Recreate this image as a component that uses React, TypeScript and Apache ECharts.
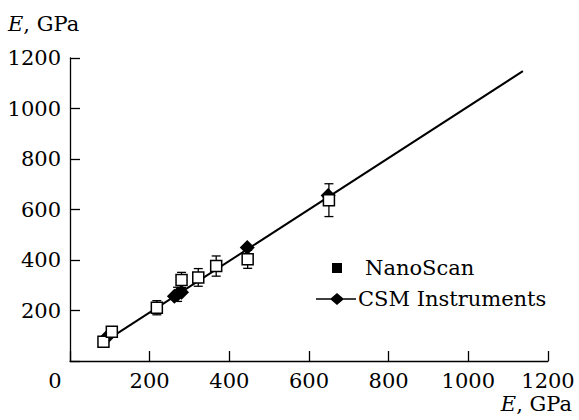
import React, { useEffect, useRef } from "react";
import * as echarts from "echarts";

const FONT = "DejaVu Serif";
const FS = 21;

// NanoScan: [E_ref, E_measured, error]
const nanoX = [84, 105, 218, 280, 322, 367, 446, 650];
const nanoY = [76, 116, 211, 321, 331, 376, 403, 637];
const nanoErr = [8, 18, 28, 30, 35, 40, 36, 65];

// CSM Instruments
const csmX = [93, 262, 270, 280, 445, 648];
const csmY = [95, 256, 264, 272, 450, 655];
const csmErr = [0, 0, 28, 0, 0, 0];

// Fit line endpoints
const fitX = [80, 1137];
const fitY = [70, 1148];

const axisTicks = [0, 200, 400, 600, 800, 1000, 1200];

export default function App() {
  const ref = useRef<HTMLDivElement>(null);

  useEffect(() => {
    if (!ref.current) return;
    const chart = echarts.init(ref.current, null, { renderer: "svg" });

    const nanoData = nanoX.map((x, i) => [x, nanoY[i]]);
    const nanoErrData = nanoX.map((x, i) => [x, nanoY[i], nanoErr[i]]);
    const csmData = csmX.map((x, i) => [x, csmY[i]]);
    const csmErrData = csmX
      .map((x, i) => [x, csmY[i], csmErr[i]])
      .filter((d) => d[2] > 0);
    const fitData = fitX.map((x, i) => [x, fitY[i]]);

    const errorRender = (params: any, api: any) => {
      const x = api.value(0);
      const y = api.value(1);
      const e = api.value(2);
      const top = api.coord([x, y + e]);
      const bot = api.coord([x, y - e]);
      const hw = 4.5;
      const st = { stroke: "#000", lineWidth: 1.3 };
      return {
        type: "group",
        children: [
          { type: "line", shape: { x1: top[0], y1: top[1], x2: bot[0], y2: bot[1] }, style: st },
          { type: "line", shape: { x1: top[0] - hw, y1: top[1], x2: top[0] + hw, y2: top[1] }, style: st },
          { type: "line", shape: { x1: bot[0] - hw, y1: bot[1], x2: bot[0] + hw, y2: bot[1] }, style: st },
        ],
      };
    };

    const axisCommon = {
      type: "value" as const,
      min: axisTicks[0],
      max: axisTicks[axisTicks.length - 1],
      interval: 200,
      splitLine: { show: false },
      axisLine: { show: true, lineStyle: { color: "#000", width: 1.3 } },
      axisTick: { show: true, inside: true, length: 10, lineStyle: { color: "#000", width: 1.3 } },
    };

    const nameStyle = {
      text: "{i|E}, GPa",
      fill: "#000",
      font: `${FS}px ${FONT}`,
      lineHeight: 22,
      rich: {
        i: { fontStyle: "italic", fontFamily: FONT, fontSize: FS, lineHeight: 22, fill: "#000" },
      },
    };

    const option: any = {
      animation: false,
      backgroundColor: "#fff",
      textStyle: { fontFamily: FONT },
      grid: { left: 70, right: 31, top: 58, bottom: 59, containLabel: false, outerBoundsMode: "none" },
      xAxis: {
        ...axisCommon,
        axisLabel: {
          color: "#000",
          fontFamily: FONT,
          fontSize: FS,
          lineHeight: 22,
          margin: 9,
          showMaxLabel: true,
          formatter: (v: number) => (v === 0 ? "{z|0}" : String(v)),
          rich: { z: { fontFamily: FONT, fontSize: FS, lineHeight: 22, color: "#000", padding: [0, 30, 0, 0] } },
        },
      },
      yAxis: {
        ...axisCommon,
        axisLabel: {
          color: "#000",
          fontFamily: FONT,
          fontSize: FS,
          lineHeight: 22,
          margin: 9,
          showMaxLabel: true,
          formatter: (v: number) => (v === 0 ? "" : String(v)),
        },
      },
      legend: [
        {
          data: [{ name: "NanoScan", icon: "rect", itemStyle: { color: "#000", borderWidth: 0, opacity: 1 } }],
          left: 332,
          top: 256,
          itemWidth: 10,
          itemHeight: 10,
          selectedMode: false,
          padding: 0,
          textStyle: { fontFamily: FONT, fontSize: FS, color: "#000", lineHeight: 24, padding: [0, 0, 0, 18] },
        },
        {
          data: [
            {
              name: "CSM Instruments",
              icon: "path://M0,5.3 L40,5.3 L40,6.7 L0,6.7 Z M21,0 L28,6 L21,12 L14,6 Z",
              itemStyle: { color: "#000", borderWidth: 0, opacity: 1 },
            },
          ],
          left: 316,
          top: 287,
          itemWidth: 40,
          itemHeight: 12,
          itemGap: 0,
          selectedMode: false,
          padding: 0,
          textStyle: { fontFamily: FONT, fontSize: FS, color: "#000", lineHeight: 24, padding: [0, 0, 0, -3] },
        },
      ],
      graphic: [
        { type: "text", left: 8, top: 13, style: nameStyle },
        { type: "text", right: 7, top: 393, style: nameStyle },
      ],
      series: [
        {
          type: "custom",
          name: "NanoScan error",
          renderItem: errorRender,
          data: nanoErrData,
          encode: { x: 0, y: 1 },
          z: 2,
          silent: true,
        },
        {
          type: "custom",
          name: "CSM error",
          renderItem: errorRender,
          data: csmErrData,
          encode: { x: 0, y: 1 },
          z: 2,
          silent: true,
        },
        {
          type: "line",
          name: "fit",
          data: fitData,
          symbol: "none",
          lineStyle: { color: "#000", width: 2 },
          z: 3,
          silent: true,
        },
        {
          type: "scatter",
          name: "CSM Instruments",
          data: csmData,
          symbol: "diamond",
          symbolSize: 15,
          itemStyle: { color: "#000", opacity: 1 },
          z: 4,
        },
        {
          type: "scatter",
          name: "NanoScan",
          data: nanoData,
          symbol: "rect",
          symbolSize: 11,
          itemStyle: { color: "#fff", borderColor: "#000", borderWidth: 1.5, opacity: 1 },
          z: 5,
        },
      ],
    };

    chart.setOption(option);
    return () => chart.dispose();
  }, []);

  return (
    <div
      ref={ref}
      style={{ position: "absolute", left: 0, top: 0, width: 579, height: 420, background: "#fff" }}
    />
  );
}
